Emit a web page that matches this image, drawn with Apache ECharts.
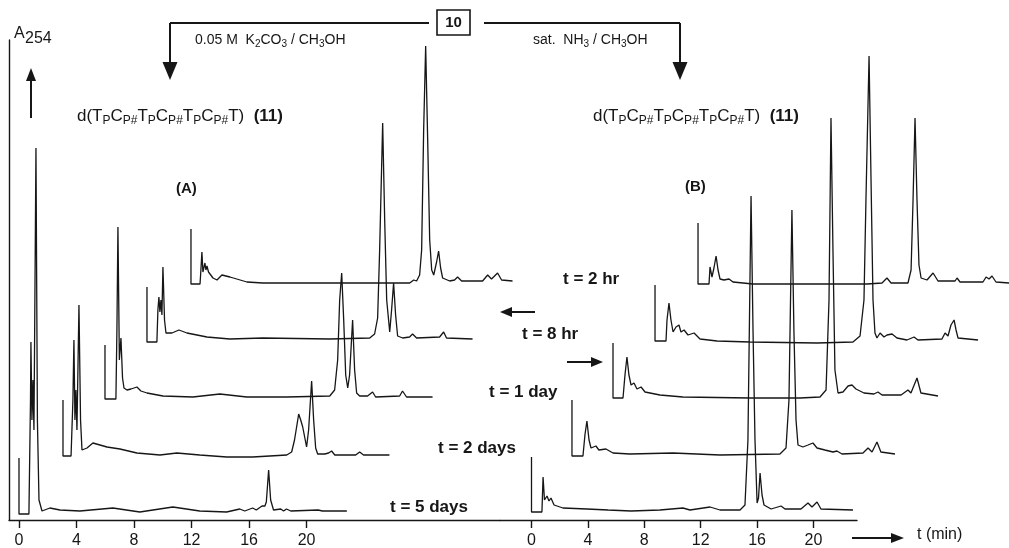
<!DOCTYPE html>
<html>
<head>
<meta charset="utf-8">
<title>HPLC traces of 11</title>
<script src="https://cdn.jsdelivr.net/npm/echarts@6/dist/echarts.min.js"></script>
<style>
html, body { margin: 0; padding: 0; background: #fff; }
#chart { width: 1009px; height: 548px; }
</style>
</head>
<body>
<div id="chart"></div>
<script>
// retention time (min, from each injection) and A254 above the trace's own baseline (arb. units)
// (A) 0.05 M K2CO3 / CH3OH
var a5days = [[0,5.3],[0,-0.3],[0.69,-0.3],[0.8,11.1],[0.83,16.9],[0.9,9.1],[0.97,13.1],[1.04,8.1],[1.18,36.3],[1.28,9.1],[1.39,1.1],[1.6,0],[2.15,0.3],[2.85,0.1],[4.24,0],[6.53,0.3],[8.4,-0.1],[10.7,0.4],[12.57,0],[14.44,-0.1],[15.35,0.2],[15.7,0],[16.25,0.3],[16.5,0.1],[16.9,0.5],[17.1,0.5],[17.2,0.9],[17.36,4.1],[17.5,1.1],[17.7,0.1],[18.2,0.2],[18.4,0],[18.6,0.2],[18.9,0],[20.8,0.1],[21.1,0],[22.8,0]]
var a2days = [[0,5.5],[0,-0.1],[0.56,-0.1],[0.69,5.5],[0.76,11.5],[0.83,3.5],[0.9,6.5],[0.97,2.5],[1.11,15],[1.22,3.5],[1.32,0.5],[1.67,0.7],[2.08,1.2],[3.06,0.8],[3.96,0.6],[5.14,0.2],[6.74,0],[7.92,0.2],[9.51,0],[11.39,-0.2],[13.19,-0.2],[15.56,0],[15.9,0.3],[16.1,1.5],[16.39,4.1],[16.53,3.5],[16.67,2.8],[16.94,0.8],[17.08,2.5],[17.29,7.4],[17.43,3.5],[17.57,0.7],[17.71,0.1],[18.2,0.1],[18.47,0.2],[18.68,0.4],[18.9,0],[20.35,0],[20.63,0.3],[20.9,0],[22.7,0]]
var a1day = [[0,5.2],[0,-0.2],[0.76,-0.2],[0.83,6.7],[0.9,17],[1.0,3.7],[1.11,5.9],[1.22,1.9],[1.32,0.9],[1.53,0.7],[1.81,0.8],[2.22,1.0],[2.5,0.6],[2.92,0.4],[4.03,0.1],[6.11,0],[7.99,0.3],[9.86,0],[12.64,0],[15.63,0.1],[15.97,0.7],[16.18,3.7],[16.32,9.7],[16.46,12.4],[16.6,7.7],[16.74,2.2],[16.88,0.9],[17.01,2.2],[17.22,7.7],[17.36,2.7],[17.5,0.4],[17.71,0.1],[18.26,0.1],[18.61,0.5],[18.82,0],[20.49,0.1],[20.69,0.6],[20.97,0],[22.78,0]]
var a8hr = [[0,5.1],[0,-0.4],[0.69,-0.4],[0.76,2.8],[0.83,4.1],[0.9,2.6],[0.97,3.8],[1.04,2.3],[1.11,7.1],[1.22,1.8],[1.32,0.5],[1.74,0.5],[2.22,0.8],[2.78,0.5],[4.17,0.1],[5.76,-0.1],[8.06,0],[12.71,-0.1],[15.49,0],[15.83,0.4],[16.04,2.0],[16.18,8.8],[16.39,21.5],[16.53,11.8],[16.67,3.8],[16.88,0.6],[17.01,2.8],[17.15,5.5],[17.29,2.3],[17.43,0.2],[17.78,0],[18.26,0.1],[18.47,0.4],[18.75,0],[20.35,0.1],[20.63,0.6],[20.83,0],[22.64,-0.1]]
var a2hr = [[0,5.3],[0,-0.2],[0.63,-0.2],[0.69,1.2],[0.76,3.0],[0.83,1.0],[0.97,1.9],[1.04,1.2],[1.11,1.6],[1.22,1.0],[1.32,1.2],[1.53,0.4],[1.81,0.2],[2.15,0.7],[2.71,0.5],[3.89,0],[5.0,-0.1],[7.36,-0.1],[11.94,-0.1],[15.21,-0.1],[15.49,0.2],[15.69,0.1],[15.9,0.7],[16.04,3.2],[16.18,15.2],[16.32,23.6],[16.46,14.2],[16.6,4.2],[16.74,1.2],[16.88,0.7],[17.08,2.0],[17.22,3.1],[17.36,1.4],[17.5,0.4],[17.99,0.1],[18.33,0.2],[18.54,0.5],[18.82,0.1],[20.28,0.1],[20.63,0.7],[20.9,0.3],[21.32,0.9],[21.6,0.2],[22.36,0.1]]

// (B) sat. NH3 / CH3OH
var b5days = [[0,5.3],[0,-0.2],[0.74,-0.2],[0.82,3.3],[0.92,1.0],[1.1,1.4],[1.24,0.9],[1.38,1.2],[1.6,0.5],[2.23,0.2],[3.94,0.1],[5.43,0],[7.06,-0.1],[9.11,0],[10.74,0.2],[11.24,0],[12.66,0.3],[13.37,0],[14.79,0],[15.14,0.5],[15.35,7.0],[15.57,31.4],[15.71,18],[15.85,7],[16.0,0.7],[16.1,1.2],[16.21,3.7],[16.35,1.5],[16.49,0.5],[16.99,0.1],[17.7,0.4],[17.98,0.1],[19.11,0.1],[19.61,0.7],[19.89,0.3],[20.25,0.8],[20.53,0.1],[22.8,0]]
var b2days = [[0,5.4],[0,-0.2],[0.78,-0.2],[0.92,1.9],[1.06,3.3],[1.21,1.4],[1.35,0.6],[1.7,0.8],[1.91,0.4],[2.41,0.5],[2.91,0.1],[4.11,0],[7.16,0.1],[10.5,-0.1],[14.75,0],[15.18,0.6],[15.39,5.4],[15.6,24.4],[15.74,12.4],[15.89,3.4],[16.03,0.9],[16.38,0.7],[16.74,0.9],[17.09,1.1],[17.38,0.6],[17.94,0.4],[18.51,0.2],[18.79,0.3],[19.15,0],[20.64,0.1],[21.0,0.6],[21.28,0.2],[21.63,1.2],[21.91,0.2],[22.91,0]]
var b1day = [[0,5.3],[0,-0.2],[0.71,-0.2],[0.85,2.1],[0.99,3.9],[1.13,2.1],[1.28,1.1],[1.49,1.3],[1.7,0.7],[1.99,0.9],[2.27,0.4],[3.33,0.1],[4.96,-0.1],[9.72,-0.2],[13.26,-0.2],[14.68,-0.1],[15.11,0.6],[15.32,9.6],[15.46,27.8],[15.6,14.6],[15.74,2.6],[15.96,0.3],[16.31,0.4],[16.67,1.0],[16.95,1.1],[17.23,0.7],[17.8,0.3],[18.51,0.2],[18.79,0.4],[19.08,0.1],[20.43,0.1],[20.92,0.6],[21.13,0.3],[21.56,1.8],[21.84,0.3],[23.05,0]]
var b8hr = [[0,5.5],[0,-0.1],[0.78,-0.1],[0.85,2.0],[0.99,3.7],[1.13,2.0],[1.28,0.8],[1.49,1.3],[1.7,1.5],[1.84,0.8],[2.06,1.0],[2.34,0.5],[2.77,0.7],[3.19,0.1],[4.4,-0.1],[6.74,-0.2],[11.49,-0.3],[14.04,-0.2],[14.54,0.4],[14.82,4.0],[14.96,14],[15.18,28.4],[15.32,16],[15.46,4.0],[15.6,0.7],[15.74,0.2],[15.96,0.7],[16.24,0.3],[16.45,0.5],[16.81,0.6],[17.16,0.2],[17.87,0],[18.37,0.3],[18.65,0],[20.35,0.1],[20.57,0.7],[20.78,0.4],[20.99,1.5],[21.21,2.0],[21.35,1.0],[21.49,0.2],[22.91,0]]
var b2hr = [[0,6.0],[0,-0.1],[0.78,-0.1],[0.85,1.6],[0.99,0.6],[1.13,1.5],[1.28,2.7],[1.42,1.3],[1.56,0.4],[1.84,0.3],[2.2,0.4],[2.48,0.1],[3.9,-0.1],[7.23,-0.1],[11.99,-0.1],[13.05,0],[13.4,0.5],[13.69,0],[14.89,0],[15.11,1.3],[15.25,8.3],[15.39,16.5],[15.53,8.3],[15.67,1.8],[15.82,0.5],[16.24,0.3],[16.67,1.0],[17.02,0.2],[18.23,0.2],[18.37,0.5],[18.58,0.1],[20.21,0.1],[20.43,0.6],[20.64,0.4],[20.85,0.7],[21.13,0.1],[22.06,0]]

// stacking of the traces: injection time shift (min) and baseline lift
var shiftTimeA = [0, 3.06, 5.98, 8.9, 11.96]
var shiftTimeB = [0, 2.87, 5.78, 8.76, 11.81]
var liftA = [0.9, 6.5, 12.3, 18.2, 23.8]
var liftB = [1.0, 6.6, 12.4, 18.0, 23.7]
var traceNames = ['t = 5 days', 't = 2 days', 't = 1 day', 't = 8 hr', 't = 2 hr']
var tickValues = [0, 4, 8, 12, 16, 20]

var FONT = 'Liberation Sans, Arial, Helvetica, sans-serif'
var INK = '#161616'

function shifted(trace, dt, dy) {
    return trace.map(function(p) { return [p[0] + dt, p[1] + dy] })
}

// grids 0/1 carry the traces (wide, so the traces can run past the axis end),
// grids 2/3 only carry the drawn time axes, same scale
var series = []
var tracesA = [a5days, a2days, a1day, a8hr, a2hr]
var tracesB = [b5days, b2days, b1day, b8hr, b2hr]
tracesA.forEach(function(tr, i) {
    series.push({ name: 'A ' + traceNames[i], type: 'line', xAxisIndex: 0, yAxisIndex: 0,
        data: shifted(tr, shiftTimeA[i], liftA[i]) })
})
tracesB.forEach(function(tr, i) {
    series.push({ name: 'B ' + traceNames[i], type: 'line', xAxisIndex: 1, yAxisIndex: 1,
        data: shifted(tr, shiftTimeB[i], liftB[i]) })
})
series.forEach(function(s) {
    s.symbol = 'none'
    s.showSymbol = false
    s.clip = false
    s.silent = true
    s.lineStyle = { color: INK, width: 1.3 }
})

function hiddenX(gridIndex, min, max) {
    return { type: 'value', gridIndex: gridIndex, min: min, max: max, show: false, splitLine: { show: false } }
}
function drawnX(gridIndex, min, max) {
    return {
        type: 'value', gridIndex: gridIndex, min: min, max: max,
        splitLine: { show: false },
        axisLine: { onZero: false, lineStyle: { color: INK, width: 1.4 } },
        axisTick: { customValues: tickValues, length: 8, lineStyle: { color: INK, width: 1.4 } },
        axisLabel: { customValues: tickValues, margin: 13, color: INK, fontSize: 16, fontFamily: FONT }
    }
}
function hiddenY(gridIndex) {
    return { type: 'value', gridIndex: gridIndex, min: 0, max: 48, show: false, splitLine: { show: false } }
}

function arrow(x1, y1, x2, y2, len, half) {
    var dx = x2 - x1, dy = y2 - y1
    var d = Math.sqrt(dx * dx + dy * dy)
    var ux = dx / d, uy = dy / d
    var bx = x2 - ux * len, by = y2 - uy * len
    return [
        { type: 'line', shape: { x1: x1, y1: y1, x2: bx, y2: by }, style: { stroke: INK, lineWidth: 2 } },
        { type: 'polygon', shape: { points: [[x2, y2], [bx - uy * half, by + ux * half], [bx + uy * half, by - ux * half]] }, style: { fill: INK } }
    ]
}

function label(x, y, text, size, bold) {
    return { type: 'text', x: x, y: y, style: { text: text, fill: INK, align: 'left', verticalAlign: 'middle',
        font: (bold ? 'bold ' : '') + size + 'px ' + FONT } }
}

var richSeq = {
    m: { fontSize: 17, fontFamily: FONT, lineHeight: 22, verticalAlign: 'middle', fill: INK },
    s: { fontSize: 12, fontFamily: FONT, lineHeight: 22, verticalAlign: 'bottom', fill: INK },
    b: { fontSize: 17, fontFamily: FONT, fontWeight: 'bold', lineHeight: 22, verticalAlign: 'middle', fill: INK }
}
var seqText = '{m|d(T}{s|P}{m|C}{s|P#}{m|T}{s|P}{m|C}{s|P#}{m|T}{s|P}{m|C}{s|P#}{m|T)}{m|  }{b|(11)}'
var richReag = {
    m: { fontSize: 14, fontFamily: FONT, lineHeight: 18, verticalAlign: 'middle', fill: INK },
    s: { fontSize: 10, fontFamily: FONT, lineHeight: 18, verticalAlign: 'bottom', fill: INK }
}

var graphics = [
    label(14, 34, 'A', 16, false),
    label(25, 39, '254', 16, false),
    { type: 'line', shape: { x1: 170, y1: 23, x2: 429, y2: 23 }, style: { stroke: INK, lineWidth: 2 } },
    { type: 'line', shape: { x1: 484, y1: 23, x2: 680, y2: 23 }, style: { stroke: INK, lineWidth: 2 } },
    { type: 'rect', shape: { x: 437, y: 10, width: 33, height: 25 }, style: { fill: '#fff', stroke: INK, lineWidth: 1.6 } },
    { type: 'text', x: 453.5, y: 23, style: { text: '10', align: 'center', verticalAlign: 'middle', fill: INK, font: 'bold 15px ' + FONT } },
    { type: 'text', x: 195, y: 40, style: { text: '{m|0.05 M  K}{s|2}{m|CO}{s|3}{m| / CH}{s|3}{m|OH}', verticalAlign: 'middle', rich: richReag } },
    { type: 'text', x: 533, y: 40, style: { text: '{m|sat.  NH}{s|3}{m| / CH}{s|3}{m|OH}', verticalAlign: 'middle', rich: richReag } },
    { type: 'text', x: 77, y: 116, style: { text: seqText, verticalAlign: 'middle', rich: richSeq } },
    { type: 'text', x: 593, y: 116, style: { text: seqText, verticalAlign: 'middle', rich: richSeq } },
    label(176, 189, '(A)', 15, true),
    label(685, 187, '(B)', 15, true),
    label(563, 279, 't = 2 hr', 17, true),
    label(522, 334, 't = 8 hr', 17, true),
    label(489, 392, 't = 1 day', 17, true),
    label(438, 448, 't = 2 days', 17, true),
    label(390, 507, 't = 5 days', 17, true),
    label(917, 535, 't (min)', 16, false)
]
graphics = graphics
    .concat(arrow(170, 23, 170, 80, 18, 7.5))
    .concat(arrow(680, 23, 680, 80, 18, 7.5))
    .concat(arrow(31, 118, 31, 68, 13, 5))
    .concat(arrow(535, 312, 500, 312, 12, 5))
    .concat(arrow(567, 362, 603, 362, 12, 5))
    .concat(arrow(852, 538, 904, 538, 13, 5))

var chart = echarts.init(document.getElementById('chart'), null, { renderer: 'canvas' })
chart.setOption({
    backgroundColor: '#fff',
    animation: false,
    grid: [
        { left: 9, top: 40, width: 511, height: 480, outerBoundsMode: 'none', containLabel: false },
        { left: 500, top: 40, width: 509, height: 480, outerBoundsMode: 'none', containLabel: false },
        { left: 9, top: 40, width: 491, height: 480, outerBoundsMode: 'none', containLabel: false },
        { left: 500, top: 40, width: 357, height: 480, outerBoundsMode: 'none', containLabel: false }
    ],
    xAxis: [
        hiddenX(0, -0.695, 34.84),
        hiddenX(1, -2.234, 33.865),
        drawnX(2, -0.695, 33.45),
        drawnX(3, -2.234, 23.085)
    ],
    yAxis: [
        hiddenY(0),
        hiddenY(1),
        { type: 'value', gridIndex: 2, min: 0, max: 48, splitLine: { show: false },
            axisLine: { show: true, onZero: false, lineStyle: { color: INK, width: 1.4 } },
            axisTick: { show: false }, axisLabel: { show: false } },
        hiddenY(3)
    ],
    graphic: graphics,
    series: series
})
window.addEventListener('resize', function() { chart.resize() })
</script>
</body>
</html>
